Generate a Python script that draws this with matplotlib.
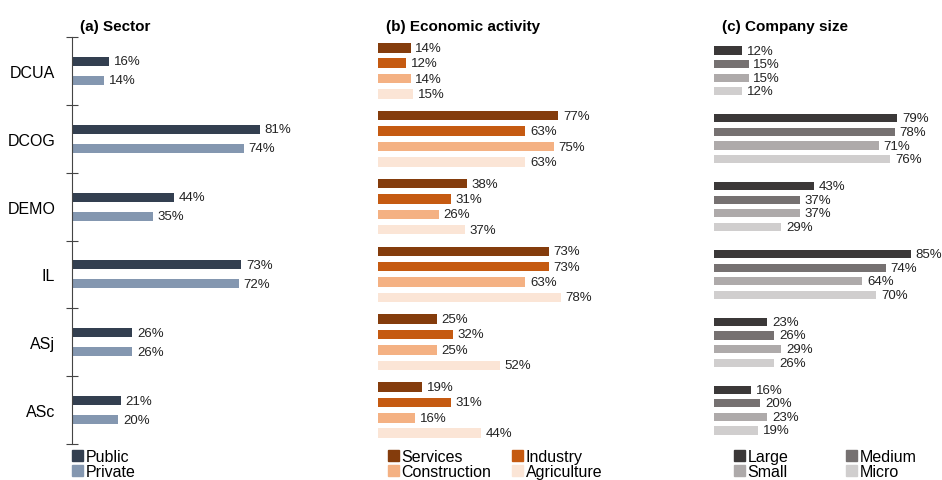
import matplotlib
matplotlib.use("Agg")
import matplotlib.pyplot as plt
from matplotlib.patches import Patch

plt.rcParams['font.family'] = ['Liberation Sans', 'DejaVu Sans']

# data
categories = ["DCUA", "DCOG", "DEMO", "IL", "ASj", "ASc"]

sector_names = ["Public", "Private"]
public = [16, 81, 44, 73, 26, 21]
private = [14, 74, 35, 72, 26, 20]

activity_names = ["Services", "Industry", "Construction", "Agriculture"]
services = [14, 77, 38, 73, 25, 19]
industry = [12, 63, 31, 73, 32, 31]
construction = [14, 75, 26, 63, 25, 16]
agriculture = [15, 63, 37, 78, 52, 44]

size_names = ["Large", "Medium", "Small", "Micro"]
large = [12, 79, 43, 85, 23, 16]
medium = [15, 78, 37, 74, 26, 20]
small = [15, 71, 37, 64, 29, 23]
micro = [12, 76, 29, 70, 26, 19]

sector_colors = ['#333f50', '#8497b0']
activity_colors = ['#843c0c', '#c55a11', '#f4b183', '#fbe5d6']
size_colors = ['#3b3838', '#767171', '#aeaaaa', '#d0cece']

W, H = 942, 481
fig = plt.figure(figsize=(W / 100, H / 100), dpi=100)


def px_axes(x0, y_top, w, h):
    return fig.add_axes([x0 / W, 1 - (y_top + h) / H, w / W, h / H])


def draw_panel(ax, series, colors, offsets, height, title):
    for vals, col, off in zip(series, colors, offsets):
        ys = [i + 0.5 + off for i in range(len(vals))]
        ax.barh(ys, vals, height=height, color=col, edgecolor='none')
        for y, v in zip(ys, vals):
            ax.text(v + 2.0, y, f"{v}%", va='center', ha='left', fontsize=9.5, color='#222222')
    ax.set_xlim(0, 100)
    ax.set_ylim(len(categories), 0)
    ax.set_xticks([])
    for s in ['top', 'right', 'bottom']:
        ax.spines[s].set_visible(False)
    ax.set_title(title, loc='left', fontsize=11, fontweight='bold', x=0.033, pad=5)


# (a) Sector
ax1 = px_axes(72, 38, 232, 407)
draw_panel(ax1, [public, private], sector_colors, [-0.14, 0.14], 0.135, "(a) Sector")
ax1.spines['left'].set_color('#444444')
ax1.set_yticks(range(len(categories) + 1))
ax1.set_yticklabels([])
ax1.tick_params(axis='y', direction='inout', length=8, color='#444444')
ax1.set_yticks([i + 0.5 for i in range(len(categories))], minor=True)
ax1.set_yticklabels(categories, minor=True, fontsize=11.5)
ax1.tick_params(axis='y', which='minor', length=0, pad=12)

# (b) Economic activity
ax2 = px_axes(378, 38, 234, 407)
draw_panel(ax2, [services, industry, construction, agriculture], activity_colors,
           [-0.34, -0.115, 0.115, 0.34], 0.14, "(b) Economic activity")
ax2.spines['left'].set_visible(False)
ax2.set_yticks([])

# (c) Company size
ax3 = px_axes(714, 38, 232, 407)
draw_panel(ax3, [large, medium, small, micro], size_colors,
           [-0.30, -0.10, 0.10, 0.30], 0.12, "(c) Company size")
ax3.spines['left'].set_visible(False)
ax3.set_yticks([])

# legends (row-wise order: legend fills columns first)
leg_kw = dict(frameon=False, fontsize=11.5, handlelength=0.7, handleheight=0.7,
              handletextpad=0.15, labelspacing=0.0, borderpad=0, borderaxespad=0)
order = [0, 2, 1, 3]

h1 = [Patch(color=c) for c in sector_colors]
fig.legend(h1, sector_names, loc='upper left', bbox_to_anchor=(72 / W, 1 - 450 / H), **leg_kw)

h2 = [Patch(color=activity_colors[i]) for i in order]
fig.legend(h2, [activity_names[i] for i in order], loc='upper left', ncol=2, columnspacing=1.3,
           bbox_to_anchor=(388 / W, 1 - 450 / H), **leg_kw)

h3 = [Patch(color=size_colors[i]) for i in order]
fig.legend(h3, [size_names[i] for i in order], loc='upper left', ncol=2, columnspacing=3.6,
           bbox_to_anchor=(734 / W, 1 - 450 / H), **leg_kw)

fig.savefig("out.png", dpi=100)
